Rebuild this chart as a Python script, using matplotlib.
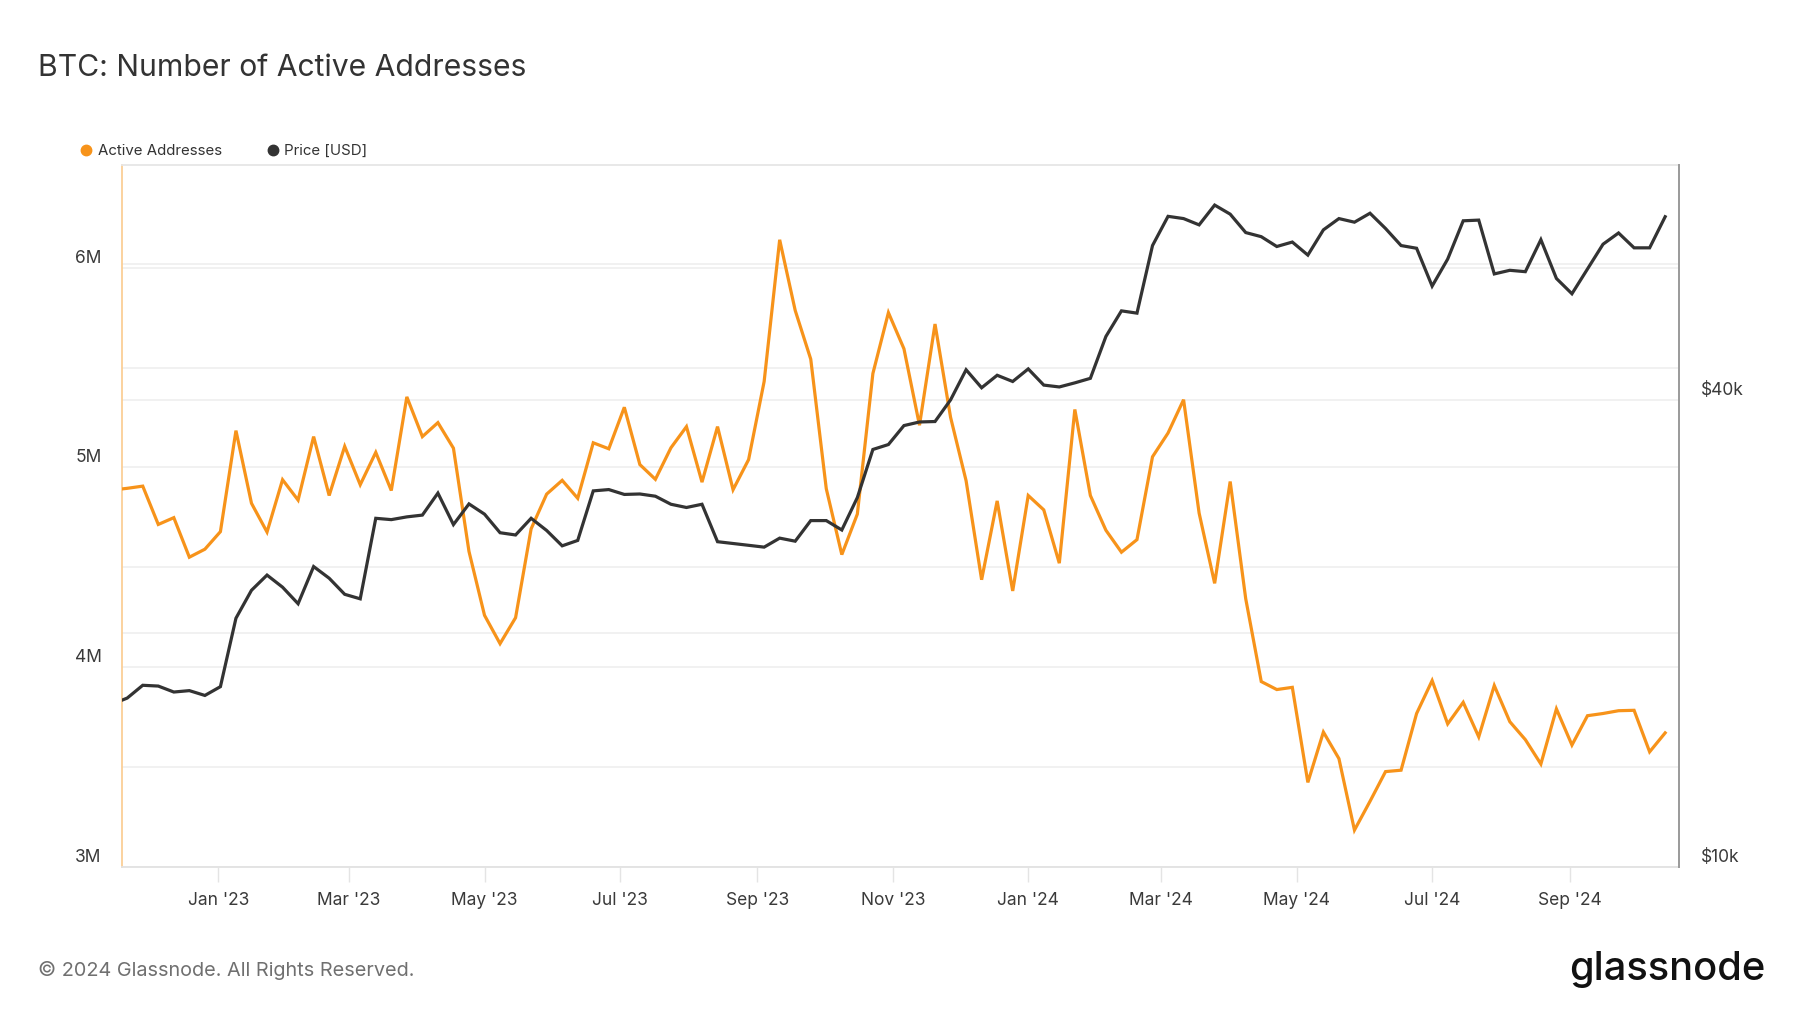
import numpy as np
import pandas as pd
import matplotlib
matplotlib.use("Agg")
import matplotlib.pyplot as plt
import matplotlib.dates as mdates
import matplotlib.transforms as mtransforms
from matplotlib.lines import Line2D
from matplotlib.ticker import FixedLocator, FuncFormatter, NullFormatter

plt.rcParams['font.family'] = ['Inter', 'DejaVu Sans']

# weekly data, first point sits just left of the visible range
dates = pd.date_range('2022-11-14', periods=101, freq='7D')

# Active addresses, millions
active_addresses = [
    4.886, 4.895, 4.906, 4.714, 4.748, 4.550, 4.590, 4.678, 5.184, 4.820, 4.676,
    4.938, 4.836, 5.154, 4.859, 5.105, 4.913, 5.075, 4.884, 5.353, 5.154,
    5.224, 5.096, 4.579, 4.259, 4.117, 4.247, 4.692, 4.866, 4.935, 4.845,
    5.123, 5.093, 5.301, 5.014, 4.940, 5.098, 5.204, 4.926, 5.204, 4.888,
    5.039, 5.430, 6.140, 5.786, 5.542, 4.893, 4.563, 4.766, 5.470, 5.775,
    5.594, 5.211, 5.718, 5.251, 4.933, 4.437, 4.832, 4.381, 4.859, 4.787,
    4.520, 5.290, 4.859, 4.685, 4.575, 4.638, 5.053, 5.172, 5.339, 4.771,
    4.419, 4.929, 4.342, 3.927, 3.887, 3.898, 3.422, 3.674, 3.541, 3.183,
    3.327, 3.476, 3.483, 3.767, 3.932, 3.715, 3.823, 3.650, 3.907, 3.726,
    3.636, 3.514, 3.790, 3.609, 3.756, 3.767, 3.781, 3.783, 3.575, 3.670,
]

# BTC price, thousand USD
price_k = [
    16.2, 16.5, 17.14, 17.1, 16.8, 16.87, 16.63, 17.07, 20.92, 22.73, 23.78,
    22.94, 21.84, 24.39, 23.56, 22.46, 22.16, 28.15, 28.04, 28.27, 28.42,
    30.34, 27.63, 29.38, 28.5, 26.97, 26.79, 28.15, 27.15, 25.94, 26.36,
    30.54, 30.66, 30.22, 30.26, 30.06, 29.35, 29.07, 29.35, 26.26, 26.12,
    25.98, 25.84, 26.54, 26.3, 27.96, 27.96, 27.19, 29.94, 34.54, 35.05,
    37.08, 37.48, 37.53, 40.02, 43.77, 41.49, 43.06, 42.27, 43.88, 41.82,
    41.59, 42.1, 42.67, 48.32, 52.14, 51.79, 63.31, 69.05, 68.59, 67.32,
    71.4, 69.5, 65.8, 65.0, 63.13, 63.97, 61.54, 66.33, 68.59, 67.86,
    69.69, 66.6, 63.31, 62.8, 56.12, 60.81, 68.14, 68.28, 58.19, 58.82,
    58.58, 64.42, 57.41, 54.86, 59.05, 63.56, 65.72, 62.88, 62.88, 68.97,
]

left_ticks = [3, 4, 5, 6]
left_minor = [3.5, 4.5, 5.5]
right_ticks = [10000, 20000, 40000, 60000]
right_labels = ['$10k', '', '$40k', '']

ORANGE = '#f7931a'
DARK = '#333333'
GRID = '#f0f0f0'

fig = plt.figure(figsize=(18, 10.13), dpi=100)
ax = fig.add_axes([0.068, 0.1445, 0.865, 0.6925])
ax2 = ax.twinx()

aa = np.array(active_addresses) * 1e6
px = np.array(price_k) * 1000

ax.plot(dates, aa, color=ORANGE, lw=2.3, solid_joinstyle='miter', zorder=3)
ax2.plot(dates, px, color=DARK, lw=2.3, solid_joinstyle='miter', zorder=3)

ax.set_xlim(pd.Timestamp('2022-11-18 20:00'), pd.Timestamp('2024-10-20 10:00'))
ax.set_ylim(3e6, 6.514e6)
ax2.set_yscale('log')
ax2.set_ylim(10000, 80400)

# left axis ticks / grid
ax.yaxis.set_major_locator(FixedLocator([v * 1e6 for v in left_ticks]))
ax.yaxis.set_minor_locator(FixedLocator([v * 1e6 for v in left_minor]))
ax.yaxis.set_major_formatter(FuncFormatter(lambda v, p: f'{v / 1e6:.0f}M'))
ax.yaxis.set_minor_formatter(NullFormatter())
ax.grid(which='both', axis='y', color=GRID, lw=1.3, zorder=0)
ax.grid(False, axis='x')
ax.tick_params(axis='y', which='both', length=0, pad=15, labelsize=12.5, labelcolor='#3a3a3a')

# right axis gridlines drawn in the lower axes so they stay under the lines
blend = mtransforms.blended_transform_factory(ax.transAxes, ax2.transData)
for v in right_ticks[1:]:
    ax.plot([0, 1], [v, v], transform=blend, color=GRID, lw=1.3, zorder=0)

ax2.yaxis.set_major_locator(FixedLocator(right_ticks))
ax2.yaxis.set_major_formatter(FuncFormatter(lambda v, p: right_labels[right_ticks.index(v)] if v in right_ticks else ''))
ax2.yaxis.set_minor_locator(FixedLocator([]))
ax2.yaxis.set_minor_formatter(NullFormatter())
ax2.tick_params(axis='y', which='both', length=0, pad=15.5, labelsize=12.5, labelcolor='#3a3a3a')

# lift y labels a bit above their gridline
off = mtransforms.ScaledTranslation(0, 0.115, fig.dpi_scale_trans)
for lab in ax.get_yticklabels() + ax2.get_yticklabels():
    lab.set_transform(lab.get_transform() + off)

# x axis
ax.xaxis.set_major_locator(mdates.MonthLocator(bymonth=[1, 3, 5, 7, 9, 11]))
ax.xaxis.set_major_formatter(mdates.DateFormatter("%b '%y"))
ax.tick_params(axis='x', length=11, width=1, color='#e4e4e4', pad=7.5, labelsize=12.5, labelcolor='#3a3a3a')

# spines
ax.spines['left'].set_color('#fbcb8e')
ax.spines['left'].set_linewidth(1.2)
ax.spines['right'].set_visible(False)
ax.spines['top'].set_color('#e6e6e6')
ax.spines['top'].set_linewidth(1.3)
ax.spines['bottom'].set_color('#e2e2e2')
ax.spines['bottom'].set_linewidth(1.3)
for s in ['left', 'top', 'bottom']:
    ax2.spines[s].set_visible(False)
ax2.spines['right'].set_color('#9a9a9a')
ax2.spines['right'].set_linewidth(1.4)

# title, legend, footer
fig.text(0.021, 0.933, 'BTC: Number of Active Addresses', fontsize=21.7, color=DARK, va='center', ha='left')

handles = [
    Line2D([], [], color=ORANGE, marker='o', ls='none', markersize=7.5),
    Line2D([], [], color=DARK, marker='o', ls='none', markersize=7.5),
]
fig.legend(handles, ['Active Addresses', 'Price [USD]'], loc='center left',
           bbox_to_anchor=(0.0446, 0.851), ncol=2, frameon=False, fontsize=10.8,
           handlelength=0.8, handletextpad=0.36, columnspacing=2.98,
           borderpad=0, borderaxespad=0, labelcolor='#333333')

fig.text(0.021, 0.0415, '\u00a9 2024 Glassnode. All Rights Reserved.', fontsize=14.3,
         color='#707070', va='center', ha='left')
fig.text(0.9805, 0.043, 'glassnode', fontsize=28.7, fontweight='medium', color='#111111',
         va='center', ha='right')

fig.savefig('out.png', dpi=100)
